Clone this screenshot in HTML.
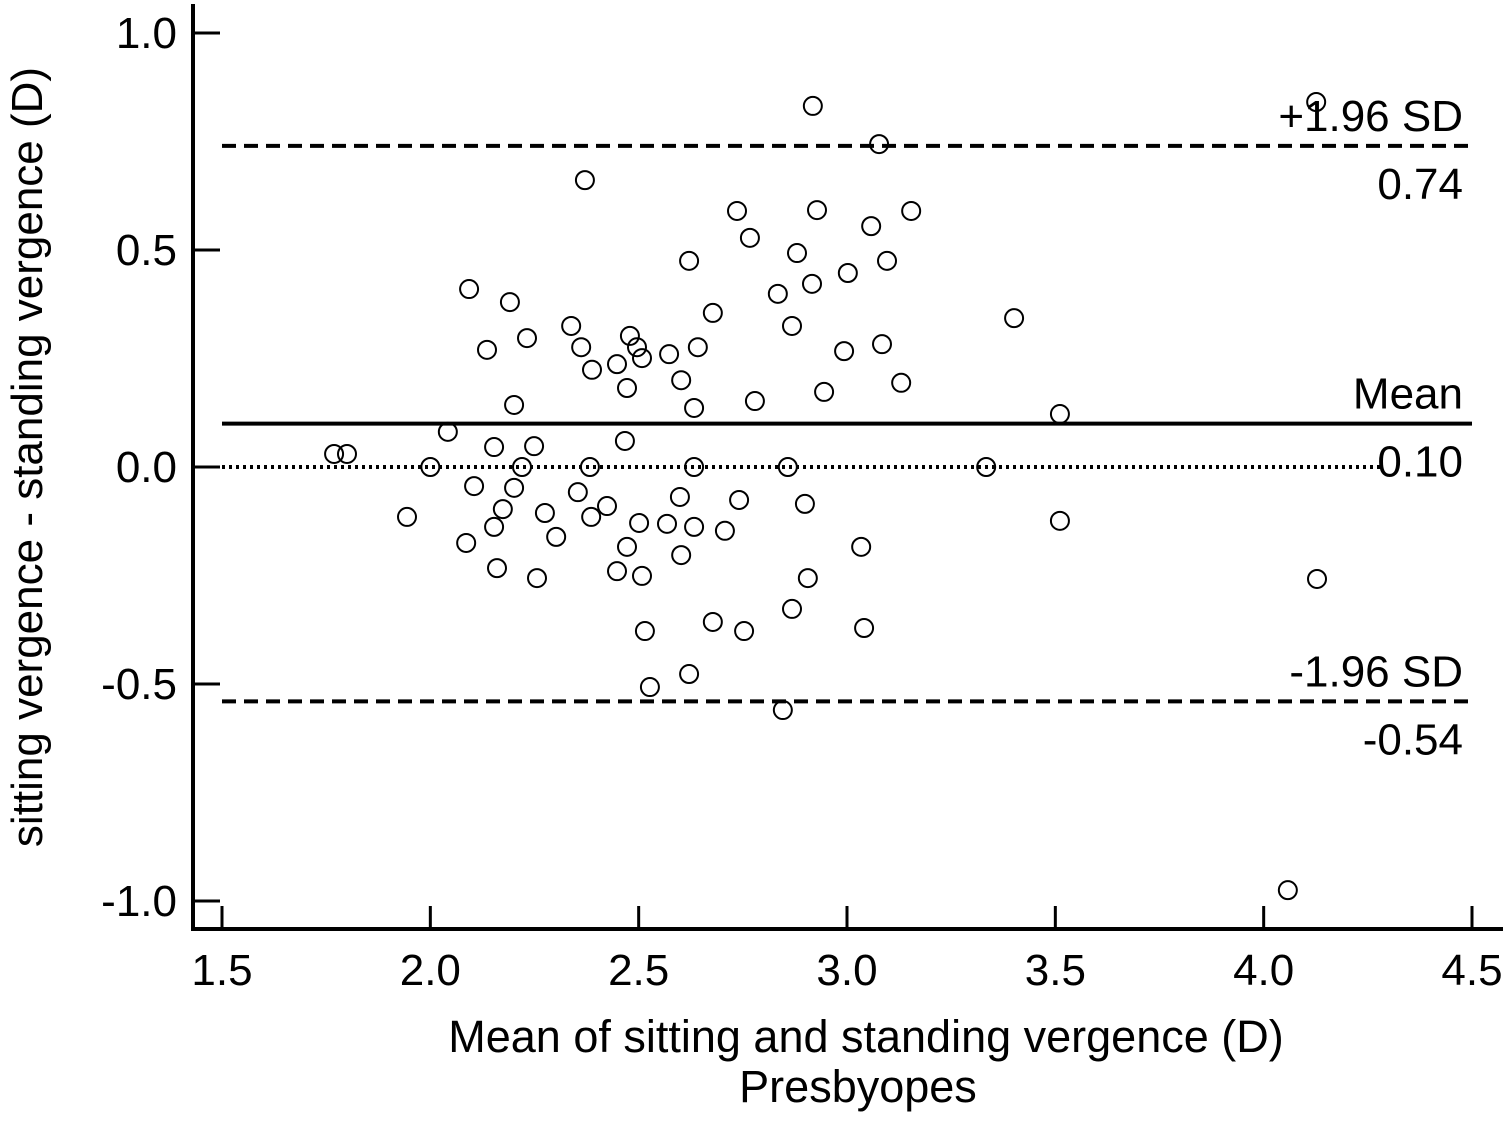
<!DOCTYPE html>
<html><head><meta charset="utf-8"><style>
body{margin:0;background:#fff}
svg text{font-family:"Liberation Sans",Arial,sans-serif;fill:#000}
</style></head><body>
<svg id="chart" width="1508" height="1118" xmlns="http://www.w3.org/2000/svg">
<g id="axes"></g><g id="lines"></g><g id="pts"></g>
</svg>
<script>
const xTicks=[1.5,2.0,2.5,3.0,3.5,4.0,4.5];
const yTicks=[1.0,0.5,0.0,-0.5,-1.0];
const xTickLabels=["1.5","2.0","2.5","3.0","3.5","4.0","4.5"];
const yTickLabels=["1.0","0.5","0.0","-0.5","-1.0"];
const meanDiff=0.10, upperLoA=0.74, lowerLoA=-0.54;
const xVals=[2.918,4.126,3.077,2.371,2.736,2.928,3.154,2.767,3.058,2.880,2.621,3.002,3.096,2.093,2.191,2.834,2.916,2.678,3.401,2.232,2.338,2.479,2.868,2.136,2.362,2.496,2.573,2.508,2.642,2.448,2.388,2.993,3.084,2.602,2.472,3.130,2.945,2.779,2.201,2.633,3.511,2.042,2.467,1.769,1.800,2.153,2.249,2.0,2.220,2.383,2.633,2.858,3.334,2.105,2.201,2.354,2.424,2.599,2.741,2.899,1.944,2.174,2.275,2.386,3.511,2.153,2.501,2.568,2.633,2.707,2.302,2.086,2.472,3.034,2.602,2.160,2.448,2.508,2.256,2.906,4.128,2.868,2.678,2.753,2.515,3.041,2.621,2.527,2.846,4.058];
const yVals=[0.832,0.841,0.744,0.661,0.590,0.592,0.590,0.528,0.555,0.493,0.475,0.447,0.475,0.410,0.380,0.399,0.422,0.355,0.343,0.297,0.325,0.302,0.325,0.270,0.276,0.276,0.260,0.251,0.276,0.237,0.224,0.267,0.283,0.200,0.182,0.194,0.173,0.152,0.143,0.136,0.122,0.081,0.060,0.030,0.030,0.046,0.048,0,0,0,0,0,0,-0.044,-0.048,-0.058,-0.090,-0.069,-0.076,-0.085,-0.115,-0.097,-0.106,-0.115,-0.124,-0.138,-0.129,-0.131,-0.138,-0.147,-0.161,-0.175,-0.184,-0.184,-0.203,-0.233,-0.240,-0.251,-0.256,-0.256,-0.258,-0.327,-0.357,-0.378,-0.378,-0.371,-0.477,-0.507,-0.560,-0.975];

const NS="http://www.w3.org/2000/svg";
const X=v=>222+(v-1.5)*416.67;
const Y=v=>467-v*434;
function mk(tag,attrs,parent,txt){const e=document.createElementNS(NS,tag);for(const k in attrs)e.setAttribute(k,attrs[k]);if(txt!==undefined)e.textContent=txt;parent.appendChild(e);return e;}
const axes=document.getElementById('axes'),lines=document.getElementById('lines'),pts=document.getElementById('pts');

let e=mk('line',{x1:193,y1:4,x2:193,y2:931,stroke:'#000','stroke-width':4},axes);


e=mk('line',{x1:191,y1:929,x2:1503,y2:929,stroke:'#000','stroke-width':4},axes);


xTicks.forEach((v,i)=>{
  let t=mk('line',{x1:X(v),y1:906,x2:X(v),y2:929,stroke:'#000','stroke-width':3},axes);
  
  
  t=mk('text',{x:X(v),y:985,'font-size':44,'text-anchor':'middle'},axes,xTickLabels[i]);
  
  
});
yTicks.forEach((v,i)=>{
  let t=mk('line',{x1:193,y1:Y(v),x2:220,y2:Y(v),stroke:'#000','stroke-width':3},axes);
  
  
  t=mk('text',{x:177,y:Y(v)+15,'font-size':44,'text-anchor':'end'},axes,yTickLabels[i]);
  
  
});
e=mk('text',{x:866,y:1052,'font-size':45,'text-anchor':'middle'},axes,'Mean of sitting and standing vergence (D)');


e=mk('text',{x:858,y:1102,'font-size':45,'text-anchor':'middle'},axes,'Presbyopes');


e=mk('text',{x:0,y:0,'font-size':44,'text-anchor':'middle',transform:'translate(42,457) rotate(-90)'},axes,'sitting vergence - standing vergence (D)');



e=mk('line',{x1:222,y1:Y(0),x2:1380,y2:Y(0),stroke:'#000','stroke-width':4,'stroke-dasharray':'3 4'},lines);


e=mk('line',{x1:222,y1:Y(meanDiff),x2:1472,y2:Y(meanDiff),stroke:'#000','stroke-width':4},lines);


e=mk('line',{x1:222,y1:Y(upperLoA),x2:1472,y2:Y(upperLoA),stroke:'#000','stroke-width':4,'stroke-dasharray':'14 8'},lines);


e=mk('line',{x1:222,y1:Y(lowerLoA),x2:1472,y2:Y(lowerLoA),stroke:'#000','stroke-width':4,'stroke-dasharray':'14 8'},lines);



const lab=[['+1.96 SD',Y(upperLoA)-15,'upper-limit-label'],[upperLoA.toFixed(2),Y(upperLoA)+53,'upper-limit-value'],
['Mean',Y(meanDiff)-15,'mean-label'],[meanDiff.toFixed(2),Y(meanDiff)+53,'mean-value'],
['-1.96 SD',Y(lowerLoA)-15,'lower-limit-label'],[lowerLoA.toFixed(2),Y(lowerLoA)+53,'lower-limit-value']];
lab.forEach(l=>{
  let t=mk('text',{x:1463,y:l[1],'font-size':44,'text-anchor':'end'},lines,l[0]);
  
  
});

xVals.forEach((v,i)=>{
  let c=mk('circle',{cx:X(v),cy:Y(yVals[i]),r:9,fill:'none',stroke:'#000','stroke-width':2},pts);
  
  
});
</script>
</body></html>
